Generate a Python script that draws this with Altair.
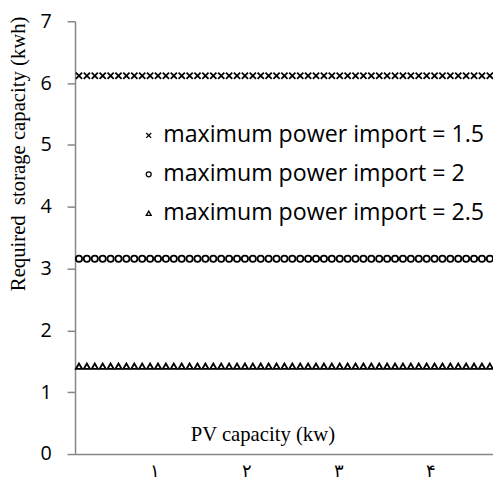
import altair as alt
import pandas as pd

pv_capacity = [round(0.175 + 0.0859 * i, 4) for i in range(53)]

series_names = [
    "maximum power import = 1.5",
    "maximum power import = 2",
    "maximum power import = 2.5",
]
series_values = [6.12, 3.16, 1.42]

y_ticks = [0, 1, 2, 3, 4, 5, 6, 7]
x_ticks = [1, 2, 3, 4]
x_tick_labels = ["١", "٢", "٣", "۴"]

rows = []
for name, v in zip(series_names, series_values):
    for x in pv_capacity:
        rows.append({"pv": x, "storage": v, "series": name})
df = pd.DataFrame(rows)

x_shape = "M-1,-1L1,1M1,-1L-1,1"

label_expr = " : ".join(
    f"datum.value == {v} ? '{lab}'" for v, lab in zip(x_ticks, x_tick_labels)
) + " : ''"

axis_gray = "#868686"

chart = (
    alt.Chart(df)
    .mark_point(filled=False, strokeWidth=1.8, size=40, color="black", opacity=1)
    .encode(
        x=alt.X(
            "pv:Q",
            scale=alt.Scale(domain=[0.132, 4.676], nice=False, zero=False),
            axis=alt.Axis(
                values=x_ticks,
                ticks=False,
                labelExpr=label_expr,
                labelFont="Liberation Serif",
                labelFontSize=18,
                labelColor="black",
                labelPadding=9,
                domainColor=axis_gray,
                domainWidth=1.5,
                grid=False,
                title="PV capacity (kw)",
                titleFont="Liberation Serif",
                titleFontSize=21,
                titleFontWeight="normal",
                titleColor="black",
                titleX=190,
                titleY=-20,
                titleBaseline="middle",
                titleAlign="center",
            ),
        ),
        y=alt.Y(
            "storage:Q",
            scale=alt.Scale(domain=[0, 7], nice=False),
            axis=alt.Axis(
                values=y_ticks,
                tickSize=8,
                tickColor=axis_gray,
                tickWidth=1.5,
                domainColor=axis_gray,
                domainWidth=1.5,
                labelFont="Open Sans",
                labelFontSize=20,
                labelColor="black",
                labelPadding=16,
                grid=False,
                title="Required\u00a0 storage capacity (kwh)",
                titleFont="Liberation Serif",
                titleFontSize=21,
                titleFontWeight="normal",
                titleColor="black",
                titleX=-57,
                titleY=134,
                titleAlign="center",
                titleBaseline="middle",
            ),
        ),
        shape=alt.Shape(
            "series:N",
            scale=alt.Scale(domain=series_names, range=[x_shape, "circle", "triangle-up"]),
            legend=alt.Legend(
                title=None,
                orient="none",
                legendX=63,
                legendY=104,
                padding=0,
                labelFont="Open Sans",
                labelFontSize=23.5,
                labelColor="black",
                labelOffset=3,
                rowPadding=14.5,
                symbolSize=25,
                symbolStrokeColor="black",
                symbolFillColor="transparent",
                symbolStrokeWidth=1.3,
                labelLimit=400,
            ),
        ),
    )
    .properties(
        width=424,
        height=439,
        autosize=alt.AutoSizeParams(type="none"),
        padding={"left": 68, "top": 10, "right": 0, "bottom": 34},
    )
    .configure_view(stroke=None)
)

chart.save("out.html", embed_options={"renderer": "svg", "actions": False})
